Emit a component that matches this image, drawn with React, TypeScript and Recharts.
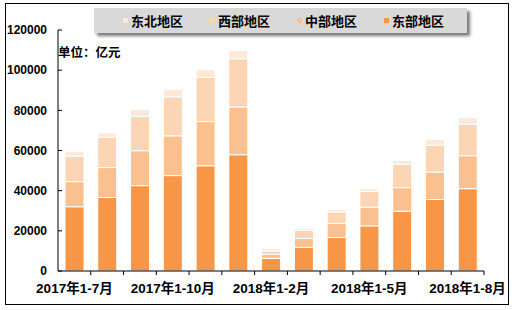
import { BarChart, Bar, XAxis, YAxis } from "recharts";

// 类别（每三个显示一个标签）
const categories = [
  "2017年1-7月", "2017年1-8月", "2017年1-9月", "2017年1-10月", "2017年1-11月", "2017年1-12月",
  "2018年1-2月", "2018年1-3月", "2018年1-4月", "2018年1-5月", "2018年1-6月", "2018年1-7月", "2018年1-8月",
];

// 单位：亿元
const east = [32000, 36600, 42500, 47500, 52400, 57900, 6300, 11800, 16700, 22500, 29800, 35600, 41000];
const central = [12500, 14900, 17400, 19800, 22000, 23800, 2000, 4400, 7000, 9300, 11700, 13700, 16400];
const west = [12700, 15200, 17000, 19400, 22000, 24000, 1700, 4000, 5700, 7900, 11600, 13400, 15600];
const northeast = [2400, 2100, 3600, 3600, 3800, 4000, 1200, 1000, 1200, 1300, 2000, 2800, 3300];

const yTicks = [0, 20000, 40000, 60000, 80000, 100000, 120000];

const series = [
  { key: "east", name: "东部地区", color: "#F79646" },
  { key: "central", name: "中部地区", color: "#FAC090" },
  { key: "west", name: "西部地区", color: "#FCD5B5" },
  { key: "northeast", name: "东北地区", color: "#FDE9D9" },
];

const data = categories.map((c, i) => ({
  name: c,
  east: east[i],
  central: central[i],
  west: west[i],
  northeast: northeast[i],
}));

const FONT = '"Liberation Sans", Arial, "Noto Sans CJK SC", sans-serif';
const W = 515;
const H = 310;
const LEFT = 58;
const RIGHT = 31;
const band = (W - LEFT - RIGHT) / categories.length;

const XTick = (props: any) => {
  const { x, y, payload } = props;
  const idx = props.index ?? payload.index;
  return (
    <g>
      <line x1={x + band / 2} x2={x + band / 2} y1={y} y2={y + 4} stroke="#000" />
      {idx % 3 === 0 && (
        <text x={x} y={y + 22} textAnchor="middle" fontSize={13.5} fontWeight="bold" fill="#000" fontFamily={FONT}>
          {payload.value}
        </text>
      )}
    </g>
  );
};

export default function App() {
  return (
    <div style={{ position: "absolute", left: 0, top: 0, width: W, height: H, background: "#fff", fontFamily: FONT }}>
      <div style={{ position: "absolute", left: 5, top: 3, width: 504, height: 302, border: "1px solid #000", boxSizing: "border-box" }} />
      <BarChart
        width={W}
        height={H}
        data={data}
        margin={{ top: 30, right: RIGHT, bottom: 9, left: 0 }}
        style={{ position: "absolute", left: 0, top: 0 }}
      >
        <XAxis
          dataKey="name"
          interval={0}
          height={30}
          tickLine={false}
          tickSize={0}
          tickMargin={0}
          tick={<XTick />}
          axisLine={{ stroke: "#000" }}
        />
        <YAxis
          width={LEFT}
          domain={[0, 120000]}
          ticks={yTicks}
          interval={0}
          tickSize={-4}
          tickMargin={15}
          axisLine={{ stroke: "#000" }}
          tickLine={{ stroke: "#000" }}
          tick={{ fontSize: 12, fill: "#000", fontWeight: "bold", fontFamily: FONT }}
        />
        {series.map(s => (
          <Bar
            key={s.key}
            dataKey={s.key}
            name={s.name}
            stackId="a"
            fill={s.color}
            stroke="#fff"
            strokeWidth={1}
            barSize={19}
            isAnimationActive={false}
          />
        ))}
      </BarChart>
      {/* 图例 */}
      <div
        style={{
          position: "absolute",
          left: 94,
          top: 8,
          width: 373,
          height: 25,
          background: "#D9D9D9",
          boxShadow: "3px 3px 3px #7a7a7a",
          display: "flex",
          alignItems: "center",
          paddingLeft: 29,
          boxSizing: "border-box",
        }}
      >
        {[...series].reverse().map(s => (
          <div key={s.key} style={{ width: 87, display: "flex", alignItems: "center", flex: "none" }}>
            <span style={{ width: 5, height: 5, background: s.color, marginRight: 3, display: "inline-block" }} />
            <span style={{ fontSize: 13, fontWeight: "bold", color: "#000" }}>{s.name}</span>
          </div>
        ))}
      </div>
      <div style={{ position: "absolute", left: 58, top: 42, fontSize: 12.5, fontWeight: "bold", color: "#000" }}>
        单位：亿元
      </div>
    </div>
  );
}
